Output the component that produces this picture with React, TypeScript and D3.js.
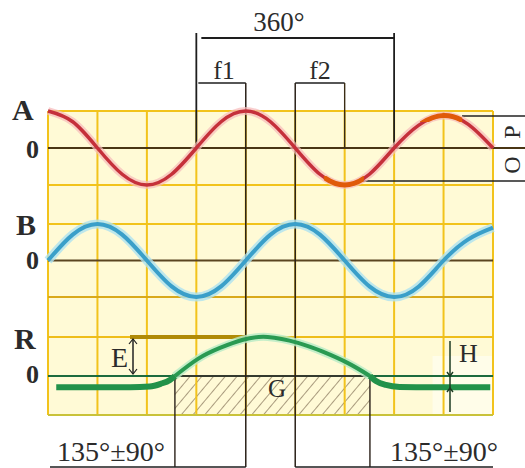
import React from "react";
import * as d3 from "d3";

// ---- data (degrees along x, normalised amplitude along y) ----
const sampleDegrees = [0, 45, 90, 135, 180, 225, 270, 315, 360, 405, 450, 495, 540, 585, 630, 675, 720, 765, 810];
const seriesA = [1, 0.71, 0, -0.71, -1, -0.71, 0, 0.71, 1, 0.71, 0, -0.71, -1, -0.71, 0, 0.62, 0.88, 0.64, 0];
const seriesB = [0, 0.71, 1, 0.71, 0, -0.71, -1, -0.71, 0, 0.71, 1, 0.71, 0, -0.71, -1, -0.71, 0, 0.58, 0.9];

const rLeftDeg = [15, 150, 185, 205, 222, 231];
const rLeftVal = [-0.29, -0.29, -0.27, -0.2, -0.1, 0];
const rHumpDeg = [231, 273, 313, 355, 400, 455, 499, 546, 586];
const rHumpVal = [0, 0.44, 0.72, 0.93, 1.0, 0.85, 0.63, 0.33, 0];
const rRightDeg = [586, 597, 615, 640, 700, 805];
const rRightVal = [0, -0.13, -0.23, -0.28, -0.29, -0.29];

const gridDegrees = [0, 90, 180, 270, 360, 450, 540, 630, 720, 810];
const orangeLow = [502, 575];
const orangeHigh = [677, 754];

const dim360 = [270, 630];
const dimF1 = [270, 360];
const dimF2 = [450, 540];
const bottomMarks = [231, 360, 450, 586];

const labelTop = "360°";
const labelF1 = "f1";
const labelF2 = "f2";
const labelTol = "135°±90°";

// ---- scales ----
const x = d3.scaleLinear().domain([0, 810]).range([48, 493]);
const yA = d3.scaleLinear().domain([-1, 1]).range([185, 111]);
const yB = d3.scaleLinear().domain([-1, 1]).range([297, 224]);
const yR = d3.scaleLinear().domain([-1, 1]).range([415, 337]);

const serif = "'Liberation Serif', 'DejaVu Serif', serif";
const ink = "#2b2b2b";

function pathOf(degs: number[], vals: number[], y: d3.ScaleLinear<number, number>, curve: d3.CurveFactory) {
  const gen = d3
    .line<number>()
    .x((_, i) => x(degs[i]))
    .y((d) => y(d))
    .curve(curve);
  return gen(vals) || "";
}

export default function App() {
  const pA = pathOf(sampleDegrees, seriesA, yA, d3.curveNatural);
  const pB = pathOf(sampleDegrees, seriesB, yB, d3.curveNatural);
  const pRL = pathOf(rLeftDeg, rLeftVal, yR, d3.curveMonotoneX);
  const pRH = pathOf(rHumpDeg, rHumpVal, yR, d3.curveNatural);
  const pRR = pathOf(rRightDeg, rRightVal, yR, d3.curveMonotoneX);

  const x0 = x(0);
  const x1 = x(810);
  const top = yA(1);
  const bottom = yR(-1);

  const hLines = [
    { y: yA(1), c: "#f2c31c" },
    { y: yA(-1), c: "#f2c31c" },
    { y: yB(1), c: "#f2c31c" },
    { y: yB(-1), c: "#d9a91c" },
    { y: yR(1), c: "#eebd1a" },
    { y: yR(-1), c: "#c9c23a" },
  ];

  return (
    <svg
      width={525}
      height={468}
      viewBox="0 0 525 468"
      style={{ position: "absolute", left: 0, top: 0, background: "#ffffff" }}
    >
      <defs>
        <pattern id="hatch" width="9" height="9" patternUnits="userSpaceOnUse" patternTransform="rotate(40)">
          <line x1="0" y1="0" x2="0" y2="9" stroke="#8f7d62" strokeWidth="1.7" opacity="0.9" />
        </pattern>
        <clipPath id="clipLow">
          <rect x={x(orangeLow[0])} y={yA(-1) - 9} width={x(orangeLow[1]) - x(orangeLow[0])} height={16} />
        </clipPath>
        <clipPath id="clipHigh">
          <rect x={x(orangeHigh[0])} y={yA(1) - 6} width={x(orangeHigh[1]) - x(orangeHigh[0])} height={17} />
        </clipPath>
      </defs>

      {/* cream background */}
      <rect x={x0} y={top} width={x1 - x0} height={bottom - top} fill="#fffad6" />
      <rect x={x(700)} y={356} width={x1 - x(700)} height={bottom - 356} fill="#fffde9" />

      {/* hatched area G */}
      <rect
        x={x(rHumpDeg[0])}
        y={yR(0)}
        width={x(rHumpDeg[rHumpDeg.length - 1]) - x(rHumpDeg[0])}
        height={bottom - yR(0)}
        fill="url(#hatch)"
      />

      {/* vertical grid */}
      {gridDegrees.map((d) => (
        <line key={"v" + d} x1={x(d)} x2={x(d)} y1={top} y2={bottom} stroke="#f2c31c" strokeWidth={2} />
      ))}
      {/* horizontal grid */}
      {hLines.map((h, i) => (
        <line key={"h" + i} x1={x0} x2={x1} y1={h.y} y2={h.y} stroke={h.c} strokeWidth={2} />
      ))}

      {/* E level line */}
      <line x1={130} x2={x(360)} y1={yR(1)} y2={yR(1)} stroke="#b08a06" strokeWidth={4} />

      {/* zero lines */}
      <line x1={x0} x2={525} y1={yA(0)} y2={yA(0)} stroke="#4a3514" strokeWidth={2} />
      <line x1={x0} x2={x1} y1={yB(0)} y2={yB(0)} stroke="#5a4420" strokeWidth={2} />
      <line x1={x0} x2={x1} y1={yR(0)} y2={yR(0)} stroke="#1d6b3e" strokeWidth={2} />
      <line x1={x(rHumpDeg[0])} x2={x(rHumpDeg[rHumpDeg.length - 1])} y1={yR(0)} y2={yR(0)} stroke="#3d2a2a" strokeWidth={1.5} />

      {/* P / O level lines */}
      <line x1={462} x2={525} y1={116} y2={116} stroke="#222" strokeWidth={1.6} />
      <line x1={362} x2={525} y1={181} y2={181} stroke="#222" strokeWidth={1.6} />

      {/* dimension lines top */}
      <line x1={x(dim360[0])} x2={x(dim360[0])} y1={33} y2={yA(0)} stroke="#1e1e1e" strokeWidth={1.8} />
      <line x1={x(dim360[1])} x2={x(dim360[1])} y1={33} y2={yA(0)} stroke="#1e1e1e" strokeWidth={1.8} />
      <line x1={x(dim360[0]) + 5} x2={x(dim360[1])} y1={38} y2={38} stroke="#1e1e1e" strokeWidth={1.8} />
      <line x1={x(dimF1[0]) + 2} x2={x(dimF1[1])} y1={83} y2={83} stroke="#1e1e1e" strokeWidth={1.6} />
      <line x1={x(dimF2[0])} x2={x(dimF2[1])} y1={83} y2={83} stroke="#1e1e1e" strokeWidth={1.6} />
      <line x1={x(dimF2[1])} x2={x(dimF2[1])} y1={83} y2={yA(0)} stroke="#3a2c14" strokeWidth={1.4} />
      <line x1={x(dimF1[1])} x2={x(dimF1[1])} y1={83} y2={467} stroke="#2a2018" strokeWidth={1.5} />
      <line x1={x(dimF2[0])} x2={x(dimF2[0])} y1={83} y2={467} stroke="#2a2018" strokeWidth={1.5} />

      {/* bottom brackets */}
      <line x1={x(bottomMarks[0])} x2={x(bottomMarks[0])} y1={yR(0)} y2={467} stroke="#2a2018" strokeWidth={1.4} />
      <line x1={x(bottomMarks[3])} x2={x(bottomMarks[3])} y1={yR(0)} y2={467} stroke="#2a2018" strokeWidth={1.4} />
      <line x1={50} x2={x(bottomMarks[1])} y1={467} y2={467} stroke="#1e1e1e" strokeWidth={1.6} />
      <line x1={x(bottomMarks[2])} x2={x1} y1={467} y2={467} stroke="#1e1e1e" strokeWidth={1.6} />

      {/* E arrow */}
      <line x1={133} x2={133} y1={yR(1) + 2} y2={yR(0) - 2} stroke="#222" strokeWidth={1.5} />
      <path d={`M129,${yR(1) + 7} L133,${yR(1) + 2} L137,${yR(1) + 7}`} fill="none" stroke="#222" strokeWidth={1.2} />
      <path d={`M129,${yR(0) - 7} L133,${yR(0) - 2} L137,${yR(0) - 7}`} fill="none" stroke="#222" strokeWidth={1.2} />

      {/* curves: A */}
      <path d={pA} fill="none" stroke="#f6b9b9" strokeWidth={8} opacity={0.7} />
      <path d={pA} fill="none" stroke="#c5303a" strokeWidth={3.5} />
      <path d={pA} fill="none" stroke="#e05a0a" strokeWidth={5} clipPath="url(#clipLow)" />
      <path d={pA} fill="none" stroke="#e05a0a" strokeWidth={5} clipPath="url(#clipHigh)" />

      {/* curves: B */}
      <path d={pB} fill="none" stroke="#aee2f0" strokeWidth={9} opacity={0.8} />
      <path d={pB} fill="none" stroke="#3a9fc9" strokeWidth={4} />

      {/* curves: R */}
      <path d={pRH} fill="none" stroke="#b6ebc6" strokeWidth={8} opacity={0.8} />
      <path d={pRH} fill="none" stroke="#2a9a52" strokeWidth={4} />
      <path d={pRL} fill="none" stroke="#22924a" strokeWidth={6} />
      <path d={pRR} fill="none" stroke="#22924a" strokeWidth={6} />

      {/* H marker */}
      <line x1={450} x2={450} y1={341} y2={412} stroke="#1c3a22" strokeWidth={1.5} />
      <path d={`M447,${yR(0) - 4} L450,${yR(0)} L453,${yR(0) - 4}`} fill="none" stroke="#1c3a22" strokeWidth={1.4} />
      <path d={`M447,392 L450,388 L453,392`} fill="none" stroke="#1c3a22" strokeWidth={1.4} />

      {/* texts */}
      <g fontFamily={serif} fill={ink}>
        <text x={279} y={31} fontSize={27} textAnchor="middle">{labelTop}</text>
        <text x={224} y={79} fontSize={26} textAnchor="middle">{labelF1}</text>
        <text x={320} y={79} fontSize={26} textAnchor="middle">{labelF2}</text>

        <text x={12} y={120} fontSize={30} fontWeight="bold">A</text>
        <text x={26} y={158} fontSize={26} fontWeight="bold">0</text>
        <text x={16} y={235} fontSize={30} fontWeight="bold">B</text>
        <text x={26} y={269} fontSize={26} fontWeight="bold">0</text>
        <text x={14} y={349} fontSize={30} fontWeight="bold">R</text>
        <text x={26} y={383} fontSize={26} fontWeight="bold">0</text>

        <text x={111} y={367} fontSize={28}>E</text>
        <text x={277} y={397} fontSize={25} textAnchor="middle">G</text>
        <text x={459} y={362} fontSize={26}>H</text>

        <text x={0} y={0} fontSize={24} textAnchor="middle" transform="translate(520,132) rotate(-90)">P</text>
        <text x={0} y={0} fontSize={24} textAnchor="middle" transform="translate(520,165) rotate(-90)">O</text>

        <text x={57} y={461} fontSize={27} textLength={108} lengthAdjust="spacingAndGlyphs">{labelTol}</text>
        <text x={390} y={461} fontSize={27} textLength={108} lengthAdjust="spacingAndGlyphs">{labelTol}</text>
      </g>
    </svg>
  );
}
